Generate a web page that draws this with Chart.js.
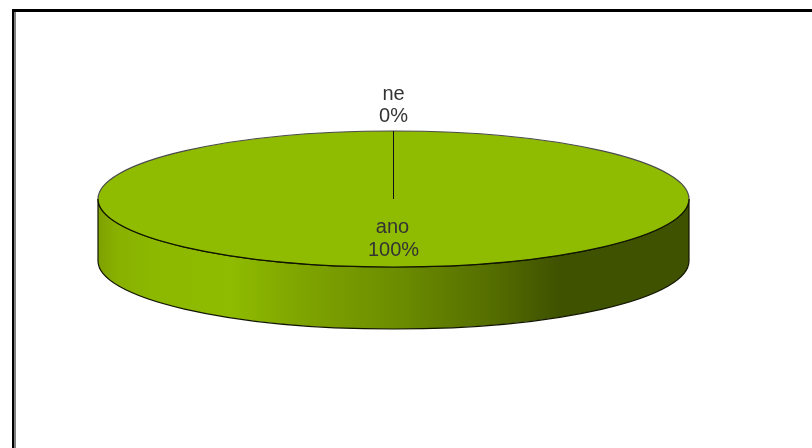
<!DOCTYPE html>
<html>
<head>
<meta charset="utf-8">
<script src="https://cdn.jsdelivr.net/npm/chart.js@4"></script>
<style>
  html, body { margin: 0; padding: 0; background: #fff; overflow: hidden; }
  #frame { position: absolute; left: 12px; top: 9px; right: 0; bottom: 0; border-left: 2px solid #000; border-top: 3px solid #000; box-shadow: inset 2px 0 0 #808080; }
  #myPieChart { position: absolute; left: 0; top: 0; }
</style>
</head>
<body>
<div id="frame"></div>
<canvas id="myPieChart" width="812" height="448"></canvas>
<script>
var categories = ['ano', 'ne'];
var values = [100, 0];
var percentLabels = ['100%', '0%'];

var pieColor = '#8fbc00';
var squash = 68 / 295.5;   // flattening of the top face
var depth = 62;            // height of the side wall
var edge = '#111500';
var font = '20px "Liberation Sans", Arial, sans-serif';
var textColor = '#333';

function wallGradient(ctx, left, right) {
    var g = ctx.createLinearGradient(left, 0, right, 0);
    g.addColorStop(0, '#7ea000');
    g.addColorStop(0.03, '#88b000');
    g.addColorStop(0.1, '#8cb900');
    g.addColorStop(0.22, '#8fbc00');
    g.addColorStop(0.34, '#7fa500');
    g.addColorStop(0.5, '#6d8e00');
    g.addColorStop(0.66, '#566f00');
    g.addColorStop(0.78, '#3f5200');
    g.addColorStop(1, '#3f5200');
    return g;
}

var pie3d = {
    id: 'pie3d',
    beforeDatasetDraw: function(chart, args) {
        var ctx = chart.ctx;
        var arc = args.meta.data[0];
        var cx = arc.x, cy = arc.y, rx = arc.outerRadius, ry = rx * squash;

        // side wall, under the top face
        ctx.save();
        ctx.beginPath();
        ctx.ellipse(cx, cy, rx, ry, 0, 0, Math.PI);
        ctx.lineTo(cx - rx, cy + depth);
        ctx.ellipse(cx, cy + depth, rx, ry, 0, Math.PI, 0, true);
        ctx.closePath();
        ctx.fillStyle = wallGradient(ctx, cx - rx, cx + rx);
        ctx.fill();
        ctx.strokeStyle = edge;
        ctx.lineWidth = 1.2;
        ctx.stroke();
        ctx.restore();

        // the library draws the slices flattened
        ctx.save();
        ctx.translate(cx, cy);
        ctx.scale(1, squash);
        ctx.translate(-cx, -cy);
    },
    afterDatasetDraw: function(chart, args) {
        var ctx = chart.ctx;
        ctx.restore();
        var arc = args.meta.data[0];
        var cx = arc.x, cy = arc.y, rx = arc.outerRadius, ry = rx * squash;

        // rim of the top face, softer on the far side
        ctx.save();
        ctx.lineWidth = 1.2;
        ctx.beginPath();
        ctx.ellipse(cx, cy, rx, ry, 0, Math.PI, Math.PI * 2);
        ctx.strokeStyle = '#4a4a4a';
        ctx.stroke();
        ctx.beginPath();
        ctx.ellipse(cx, cy, rx, ry, 0, 0, Math.PI);
        ctx.strokeStyle = edge;
        ctx.stroke();

        // slice border at the start angle, where the 0% slice sits
        ctx.lineWidth = 1;
        ctx.beginPath();
        ctx.moveTo(Math.round(cx) - 0.5, cy);
        ctx.lineTo(Math.round(cx) - 0.5, cy - ry);
        ctx.strokeStyle = '#111';
        ctx.stroke();

        // labels
        ctx.font = font;
        ctx.fillStyle = textColor;
        ctx.textAlign = 'center';
        ctx.textBaseline = 'alphabetic';
        ctx.fillText(categories[0], cx - 1, cy + 34);
        ctx.fillText(percentLabels[0], cx, cy + 57);
        ctx.fillText(categories[1], cx, cy - ry - 31);
        ctx.fillText(percentLabels[1], cx, cy - ry - 9);
        ctx.restore();
    }
};

var ctx = document.getElementById('myPieChart').getContext('2d');
var myChart = new Chart(ctx, {
    type: 'pie',
    data: {
        labels: categories,
        datasets: [{
            data: values,
            backgroundColor: [pieColor, pieColor],
            borderWidth: 0,
            clip: false
        }]
    },
    options: {
        responsive: false,
        animation: false,
        radius: 295.5,
        layout: { padding: { right: 25, bottom: 50 } },
        plugins: {
            legend: { display: false },
            tooltip: { enabled: false }
        }
    },
    plugins: [pie3d]
});
</script>
</body>
</html>
